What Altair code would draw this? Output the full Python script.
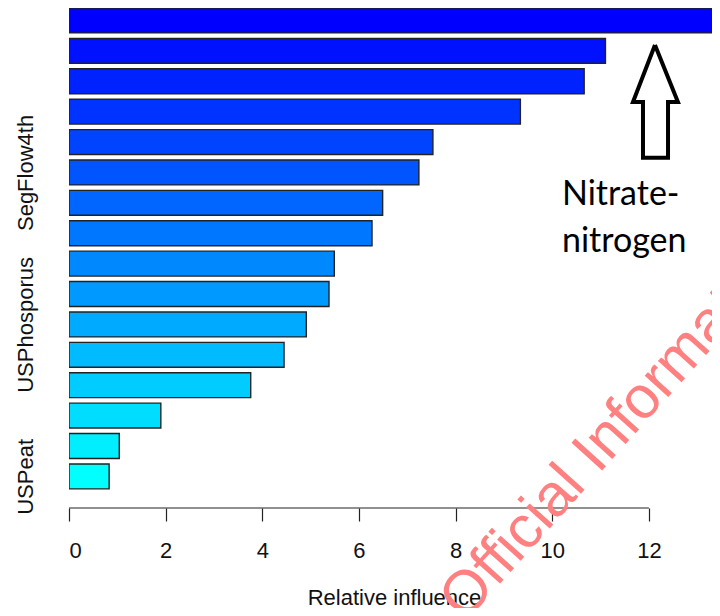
import altair as alt
import pandas as pd

# ---- data ----
influence = [14.0, 11.1, 10.66, 9.34, 7.53, 7.24, 6.49, 6.27,
             5.49, 5.38, 4.91, 4.45, 3.76, 1.90, 1.04, 0.83]
ranks = list(range(len(influence)))
label_ranks = [5, 10, 15]
label_names = ["SegFlow4th", "USPhosporus", "USPeat"]
x_ticks = [0, 2, 4, 6, 8, 10, 12]
annotation_text = "Nitrate-\nnitrogen"
arrow_x = [12.125, 12.60, 12.395, 12.395, 11.877, 11.877, 11.67, 12.125]
arrow_y = [0.806, 2.68, 2.68, 4.52, 4.52, 2.68, 2.68, 0.806]
watermark_text = "Official Information"

half = 0.41
bars = pd.DataFrame({
    "rank": ranks,
    "value": influence,
    "lo": [r - half for r in ranks],
    "hi": [r + half for r in ranks],
    "zero": [0] * len(ranks),
})
arrow = pd.DataFrame({"i": list(range(len(arrow_x))), "x": arrow_x, "y": arrow_y})

xscale = alt.Scale(domain=[0, 13.305], nice=False, zero=False)
yscale = alt.Scale(domain=[-0.41, 16.04], nice=False, zero=False, reverse=True)

label_expr = " : ".join(
    f"datum.value == {r} ? '{n}'" for r, n in zip(label_ranks, label_names)
) + " : ''"

bar_layer = alt.Chart(bars).mark_rect(
    stroke="#222222", strokeWidth=1.4, clip=True
).encode(
    x=alt.X("zero:Q", scale=xscale, axis=alt.Axis(
        values=x_ticks, domain=False, grid=False, tickSize=13, tickColor="#222222",
        tickWidth=1.2, labelFontSize=22, labelFont="Liberation Sans", labelColor="#111111",
        labelPadding=19, title="Relative influence", titleFontSize=22,
        titleFont="Liberation Sans", titleFontWeight="normal", titleColor="#111111",
        titleX=325, titleY=96, titleBaseline="alphabetic", titleAlign="center")),
    x2="value:Q",
    y=alt.Y("lo:Q", scale=yscale, axis=alt.Axis(
        values=label_ranks, labelExpr=label_expr, labelAngle=270, ticks=False,
        domain=False, grid=False, labelFontSize=22, labelFont="Liberation Sans",
        labelColor="#111111", labelPadding=37, labelAlign="center",
        labelBaseline="alphabetic", title=None)),
    y2="hi:Q",
    color=alt.Color("rank:Q", scale=alt.Scale(domain=[0, 15], range=["#0000FF", "#00FFFF"],
                                              interpolate="rgb"), legend=None),
)

axis_rule = alt.Chart(pd.DataFrame({"a": [0], "b": [12], "y": [16.04]})).mark_rule(
    color="#222222", strokeWidth=1.2
).encode(x=alt.X("a:Q", scale=xscale), x2="b:Q", y=alt.Y("y:Q", scale=yscale))

arrow_layer = alt.Chart(arrow).mark_line(
    color="black", strokeWidth=4, strokeJoin="miter"
).encode(x=alt.X("x:Q", scale=xscale), y=alt.Y("y:Q", scale=yscale), order="i:Q")

note_layer = alt.Chart(pd.DataFrame({"x": [10.2], "y": [6.07], "t": [annotation_text]})).mark_text(
    align="left", baseline="alphabetic", font="Lato", fontSize=34, lineBreak="\n",
    lineHeight=47, color="black"
).encode(x=alt.X("x:Q", scale=xscale), y=alt.Y("y:Q", scale=yscale), text="t:N")

wm_layer = alt.Chart(pd.DataFrame({"x": [8.2], "y": [19.8], "t": [watermark_text]})).mark_text(
    align="left", baseline="alphabetic", font="Liberation Sans", fontSize=60,
    angle=312, color="#FF8080"
).encode(x=alt.X("x:Q", scale=xscale), y=alt.Y("y:Q", scale=yscale), text="t:N")

chart = alt.layer(bar_layer, axis_rule, arrow_layer, note_layer, wm_layer).properties(
    width=643, height=500,
    autosize=alt.AutoSizeParams(type="none"),
    padding={"left": 61, "top": 0, "right": 0, "bottom": 100},
).configure_view(stroke=None)

chart.save("out.html", embed_options={"renderer": "svg", "actions": False})
